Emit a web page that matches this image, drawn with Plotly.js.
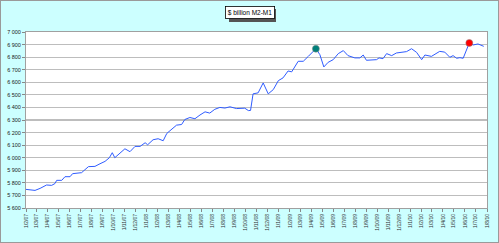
<!DOCTYPE html>
<html><head><meta charset="utf-8">
<script src="https://cdn.plot.ly/plotly-3.0.1.min.js"></script>
<style>
html,body{margin:0;padding:0;background:#ccffff;}
#wrap{position:relative;width:499px;height:243px;}
#chart{width:499px;height:243px;}
#frame{position:absolute;left:0;top:0;width:497px;height:241px;border:1px solid #9a9a9a;pointer-events:none;}
</style></head>
<body><div id="wrap"><div id="chart"></div><div id="frame"></div></div>
<script>
const dates = ["2007-02-01","2007-02-12","2007-02-26","2007-03-12","2007-03-30","2007-04-13","2007-04-22","2007-04-27","2007-05-11","2007-05-20","2007-06-03","2007-06-10","2007-07-05","2007-07-24","2007-08-11","2007-08-25","2007-09-08","2007-09-20","2007-09-28","2007-10-05","2007-10-17","2007-11-02","2007-11-16","2007-11-30","2007-12-14","2007-12-28","2008-01-04","2008-01-19","2008-02-02","2008-02-16","2008-02-26","2008-03-10","2008-03-24","2008-04-07","2008-04-16","2008-04-30","2008-05-14","2008-05-28","2008-06-11","2008-06-24","2008-07-08","2008-07-22","2008-08-05","2008-08-19","2008-09-06","2008-09-29","2008-10-09","2008-10-15","2008-10-22","2008-11-05","2008-11-19","2008-12-03","2008-12-17","2008-12-31","2009-01-13","2009-01-27","2009-02-06","2009-02-24","2009-03-10","2009-03-24","2009-04-14","2009-04-25","2009-05-06","2009-05-18","2009-06-01","2009-06-15","2009-06-29","2009-07-12","2009-07-31","2009-08-14","2009-08-23","2009-09-01","2009-09-15","2009-09-29","2009-10-06","2009-10-17","2009-10-27","2009-11-10","2009-11-23","2009-12-07","2009-12-21","2010-01-04","2010-01-18","2010-02-01","2010-02-10","2010-02-28","2010-03-23","2010-04-06","2010-04-20","2010-04-29","2010-05-09","2010-05-18","2010-05-27","2010-06-13","2010-06-24","2010-07-07","2010-07-23"];
const values = [5748,5745,5740,5756,5783,5780,5794,5820,5820,5849,5849,5873,5881,5929,5931,5952,5971,6000,6040,6000,6034,6071,6048,6090,6090,6119,6103,6143,6151,6135,6193,6225,6259,6264,6304,6320,6310,6340,6365,6355,6385,6400,6395,6405,6391,6394,6375,6376,6508,6516,6595,6508,6542,6613,6635,6690,6683,6767,6767,6806,6867,6820,6722,6759,6780,6828,6852,6812,6794,6794,6817,6775,6775,6780,6794,6788,6828,6812,6833,6840,6844,6867,6838,6780,6817,6806,6846,6840,6799,6812,6791,6796,6791,6913,6897,6905,6886];
const markDates = ["2009-04-14","2010-06-13"];
const markValues = [6867,6913];
const markColors = ["#00807a","#ff0000"];
const titleText = "$ billion M2-M1";

const traces = [
  {x:dates,y:values,type:"scatter",mode:"lines",line:{color:"#2f5cff",width:1},hoverinfo:"skip"},
  {x:markDates,y:markValues,type:"scatter",mode:"markers",marker:{color:markColors,size:7,line:{color:"#888",width:0.5}},hoverinfo:"skip"}
];
const layout = {
  width:499,height:243,
  paper_bgcolor:"#ccffff",plot_bgcolor:"#ffffff",
  margin:{l:26,r:12,t:32,b:35},
  showlegend:false,
  separators:", ",
  font:{family:"Liberation Sans, Arial, sans-serif",color:"#000"},
  xaxis:{type:"date",range:["2007-02-01","2010-08-01"],tick0:"2007-02-01",dtick:"M1",
    tickformat:"%-d/%-m/%y",tickangle:-90,tickfont:{size:5,color:"#333"},
    ticks:"outside",ticklen:3,tickcolor:"#888",showgrid:false,zeroline:false,
    showline:true,linecolor:"#a0a0a0",linewidth:1,mirror:true},
  yaxis:{range:[5600,7000],dtick:100,tick0:5600,tickformat:",d",
    tickfont:{size:5.5,color:"#222"},ticks:"outside",ticklen:3,tickcolor:"#888",
    showgrid:true,gridcolor:"#bdbdbd",gridwidth:1.2,zeroline:false,
    showline:true,linecolor:"#a0a0a0",linewidth:1,mirror:true},
  shapes:[
    {type:"rect",xref:"paper",yref:"paper",layer:"above",
     x0:(229-26)/461,x1:(276-26)/461,y0:1+(32-22)/176,y1:1+(32-9)/176,
     fillcolor:"#555",line:{width:0}}
  ],
  annotations:[
    {xref:"paper",yref:"paper",x:0.485,y:1.108,xanchor:"center",yanchor:"middle",
     text:titleText,showarrow:false,font:{size:6.5,color:"#000"},
     bgcolor:"#ffffff",bordercolor:"#000",borderwidth:0.8,borderpad:2}
  ]
};
Plotly.newPlot("chart",traces,layout,{staticPlot:true,displayModeBar:false});
</script></body></html>
